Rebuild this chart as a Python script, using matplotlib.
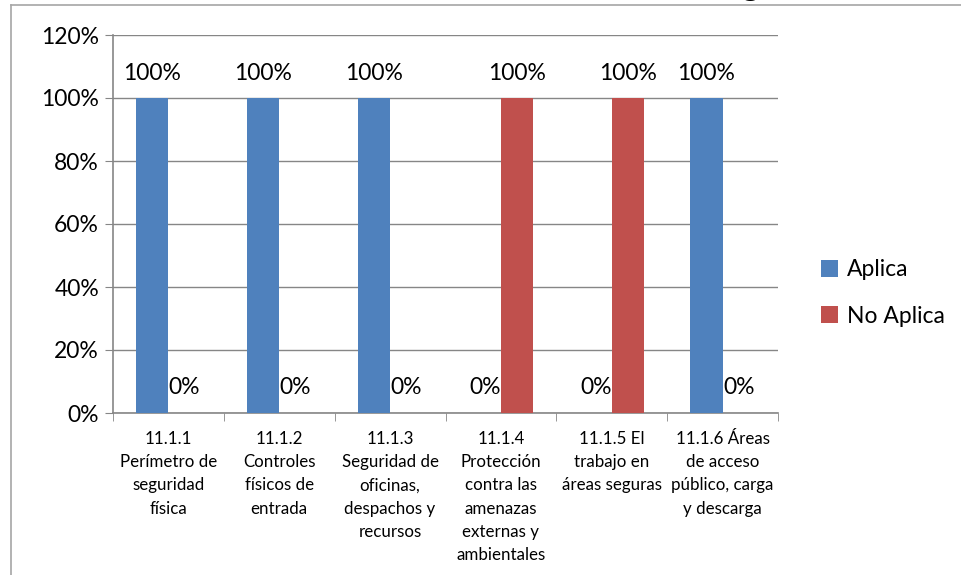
import matplotlib
matplotlib.use("Agg")
import matplotlib.pyplot as plt
from matplotlib.lines import Line2D
import numpy as np

plt.rcParams['font.family'] = ['Lato', 'DejaVu Sans']

categories = [
    "11.1.1\nPerímetro de\nseguridad\nfísica",
    "11.1.2\nControles\nfísicos de\nentrada",
    "11.1.3\nSeguridad de\noficinas,\ndespachos y\nrecursos",
    "11.1.4\nProtección\ncontra las\namenazas\nexternas y\nambientales",
    "11.1.5 El\ntrabajo en\náreas seguras",
    "11.1.6 Áreas\nde acceso\npúblico, carga\ny descarga",
]
aplica = [100, 100, 100, 0, 0, 100]
no_aplica = [0, 0, 0, 100, 100, 0]
series_names = ["Aplica", "No Aplica"]
colors = ["#4F81BD", "#C0504D"]
yticks = [0, 20, 40, 60, 80, 100, 120]

W, H = 961, 575
fig = plt.figure(figsize=(W / 100, H / 100), dpi=100)
ax = fig.add_axes([113 / W, 1 - 413 / H, (778 - 113) / W, (413 - 35) / H])

x = np.arange(len(categories))
bw = 0.29
grid_c = "#868686"

for vals, off, c, name in [(aplica, -bw / 2, colors[0], series_names[0]),
                           (no_aplica, bw / 2, colors[1], series_names[1])]:
    ax.bar(x + off, vals, width=bw, color=c, label=name, zorder=3)
    for xi, v in zip(x + off, vals):
        ax.annotate(f"{v}%", (xi, v), xytext=(0, 18), textcoords="offset points",
                    ha="center", va="center", fontsize=16.5, color="black")

ax.set_xlim(-0.5, len(categories) - 0.5)
ax.set_ylim(0, 120)
ax.set_yticks(yticks)
ax.set_yticklabels([f"{t}%" for t in yticks], fontsize=16.5)
ax.yaxis.grid(True, color=grid_c, linewidth=1, zorder=0)
ax.set_axisbelow(True)
ax.tick_params(axis="y", length=6, color=grid_c, pad=4)

ax.set_xticks(x)
ax.set_xticklabels(categories, fontsize=12.2, linespacing=1.55, va="top")
ax.tick_params(axis="x", length=0, pad=13)
ax.set_xticks(np.arange(-0.5, len(categories)), minor=True)
ax.tick_params(axis="x", which="minor", length=6, color=grid_c)

for s in ["top", "right"]:
    ax.spines[s].set_visible(False)
for s in ["left", "bottom"]:
    ax.spines[s].set_color(grid_c)
    ax.spines[s].set_linewidth(1.2)

ax.legend(loc="center left", bbox_to_anchor=(800 / W, 1 - 293 / H),
          bbox_transform=fig.transFigure, frameon=False, fontsize=16.5,
          handlelength=0.75, handleheight=0.75, handletextpad=0.4,
          labelspacing=1.1)

# chart frame
fig.add_artist(Line2D([11 / W, 11 / W], [0, 1 - 5 / H], color="#a6a6a6",
                      linewidth=1.2, transform=fig.transFigure))
fig.add_artist(Line2D([11 / W, 1], [1 - 5 / H, 1 - 5 / H], color="#a6a6a6",
                      linewidth=1.2, transform=fig.transFigure))
# tail of the title above the frame
fig.text(750 / W, 1 + 4 / H, "g", fontsize=24, fontweight="bold",
         ha="center", va="baseline")

fig.savefig("out.png", dpi=100)
